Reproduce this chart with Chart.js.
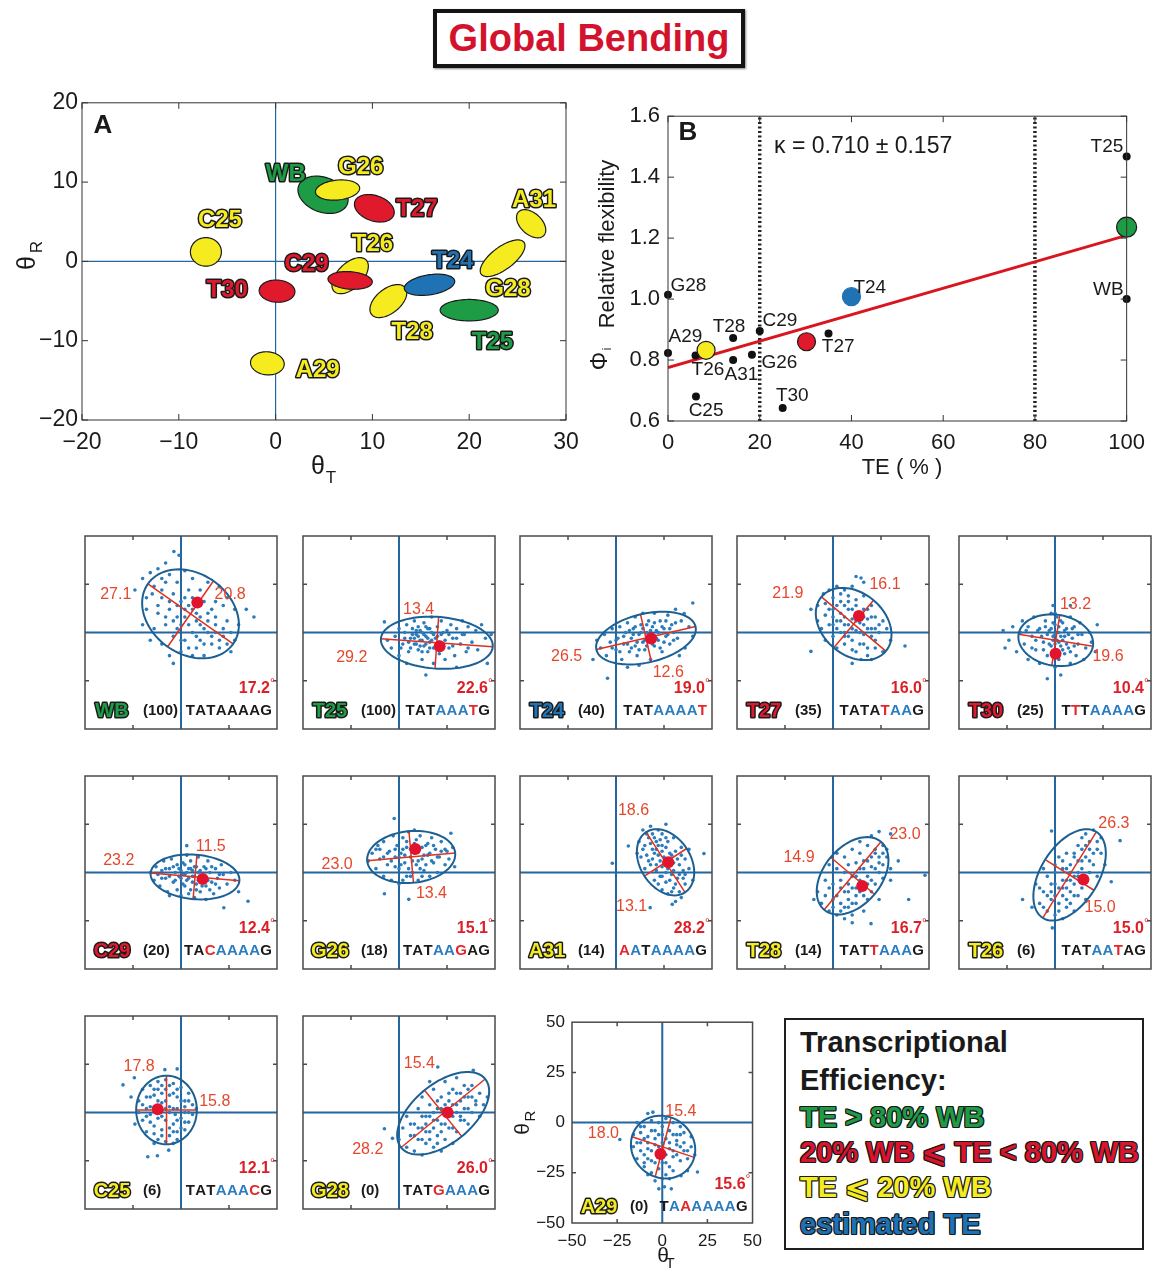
<!DOCTYPE html>
<html>
<head>
<meta charset="utf-8">
<title>Global Bending</title>
<script src="https://cdn.jsdelivr.net/npm/chart.js@4.4.1/dist/chart.umd.min.js"></script>
<style>
  body { margin: 0; background: #fff; }
  #page { position: relative; width: 1154px; height: 1270px; overflow: hidden; background: #fff;
          font-family: "Liberation Sans", Arial, Helvetica, sans-serif; }
  #page canvas { position: absolute; }
  #title { position: absolute; left: 433px; top: 9px; width: 312px; height: 59px; box-sizing: border-box;
           border: 4px solid #141414; text-align: center; line-height: 51px;
           font-size: 38px; font-weight: bold; color: #d3132d; box-shadow: 1px 1px 2px #888; }
  #legend { position: absolute; left: 784px; top: 1018px; width: 360px; height: 232px;
            box-sizing: border-box; border: 2px solid #1e1e1e; }
  #legend div { position: absolute; left: 14px; height: 32px; line-height: 32px;
                font-size: 29px; font-weight: bold; white-space: nowrap; color: #1a1a1a; }
  #legend .ol { text-shadow: -1px -1px 0 #1a1a1a, 1px -1px 0 #1a1a1a, -1px 1px 0 #1a1a1a, 1px 1px 0 #1a1a1a,
                0 1px 0 #1a1a1a, 0 -1px 0 #1a1a1a, 1px 0 0 #1a1a1a, -1px 0 0 #1a1a1a; }
</style>
</head>
<body>
<div id="page">
  <div id="title">Global Bending</div>
  <div id="legend">
    <div style="top:6px">Transcriptional</div>
    <div style="top:44px">Efficiency:</div>
    <div class="ol" style="top:81px;color:#1e9b45">TE &gt; 80% WB</div>
    <div class="ol" style="top:116px;color:#d9142d">20% WB ⩽ TE &lt; 80% WB</div>
    <div class="ol" style="top:151px;color:#f4ec1f">TE ⩽ 20% WB</div>
    <div class="ol" style="top:188px;color:#1d72b6">estimated TE</div>
  </div>
</div>
<script>
// ---------- panel A: mean ellipse of each TATA variant ----------
const aNames   = ['WB', 'G26', 'T27', 'A31', 'G28', 'C25', 'T26', 'C29', 'T30', 'T28', 'T24', 'T25', 'A29'];
const aGroup   = ['hi', 'lo', 'mid', 'lo', 'lo', 'lo', 'lo', 'mid', 'mid', 'lo', 'est', 'hi', 'lo'];
const aCenterT = [4.9, 6.4, 10.2, 26.4, 23.45, -7.2, 7.7, 7.7, 0.15, 11.65, 15.9, 20.0, -0.85];
const aCenterR = [8.4, 9.0, 6.7, 4.75, 0.4, 1.2, -1.8, -2.4, -3.75, -5.0, -2.95, -6.15, -12.85];
const aMajor   = [2.8, 2.3, 2.2, 2.0, 3.0, 1.6, 2.6, 2.3, 1.85, 2.45, 2.65, 3.0, 1.75];
const aMinor   = [2.1, 1.25, 1.55, 1.2, 1.3, 1.8, 1.4, 1.1, 1.4, 1.4, 1.25, 1.35, 1.45];
const aTilt    = [-35, 8, -30, -55, 45, 0, 55, -6, -5, 50, 12, 0, -10];
const aLabelT  = [1.05, 8.8, 14.6, 26.7, 24.0, -5.75, 10.0, 3.2, -5.0, 14.1, 18.3, 22.4, 4.35];
const aLabelR  = [11.0, 11.9, 6.5, 7.7, -3.5, 5.2, 2.2, -0.4, -3.6, -9.0, 0.0, -10.2, -13.75];
const aTicksT  = [-20, -10, 0, 10, 20, 30];
const aTicksR  = [-20, -10, 0, 10, 20];

// ---------- panel B: flexibility vs transcriptional efficiency ----------
const bTE      = [100, 100, 0, 0, 6, 14.2, 14.2, 18.3, 20, 6.1, 25, 35];
const bFlex    = [1.468, 1.0, 1.014, 0.823, 0.815, 0.872, 0.80, 0.817, 0.895, 0.68, 0.643, 0.887];
const meanGroup = ['lo', 'mid', 'est', 'hi'];
const meanTE   = [8.3, 30.2, 40, 100];
const meanFlex = [0.832, 0.86, 1.008, 1.236];
const fitTE    = [0, 100];
const fitFlex  = [0.775, 1.209];
const cutTE    = [20, 80];
const bLabNames = ['T25', 'WB', 'G28', 'T24', 'T28', 'C29', 'A29', 'T27', 'G26', 'T26', 'A31', 'T30', 'C25'];
const bLabTE    = [95.7, 96.0, 4.45, 44.0, 13.3, 24.4, 3.8, 37.1, 24.3, 8.7, 16.0, 27.1, 8.3];
const bLabFlex  = [1.50, 1.032, 1.043, 1.037, 0.909, 0.928, 0.877, 0.842, 0.791, 0.767, 0.753, 0.684, 0.635];
const bTicksTE   = [0, 20, 40, 60, 80, 100];
const bTicksFlex = [0.6, 0.8, 1.0, 1.2, 1.4, 1.6];
const kappaText = 'κ = 0.710 ± 0.157';

// ---------- small panels: per-variant (θT, θR) fluctuations ----------
const pNames   = ['WB', 'T25', 'T24', 'T27', 'T30', 'C29', 'G26', 'A31', 'T28', 'T26', 'C25', 'G28', 'A29'];
const pGroup   = ['hi', 'hi', 'est', 'mid', 'mid', 'mid', 'lo', 'lo', 'lo', 'lo', 'lo', 'lo', 'lo'];
const pTE      = [100, 100, 40, 35, 25, 20, 18, 14, 14, 6, 6, 0, 0];
const pSeq     = ['TATAAAAG', 'TATAAATG', 'TATAAAAT', 'TATATAAG', 'TTTAAAAG', 'TACAAAAG', 'TATAAGAG',
                  'AATAAAAG', 'TATTAAAG', 'TATAATAG', 'TATAAACG', 'TATGAAAG', 'TAAAAAAG'];
const pSeqMark = ['kkkkkkkk', 'kkkbbbrk', 'kkkbbbbr', 'kkkkrbbk', 'krkbbbbk', 'kkrbbbbk', 'kkkbbrkk',
                  'rbkbbbbk', 'kkkrbbbk', 'kkkbbrkk', 'kkkbbbrk', 'kkkrbbbk', 'kbrbbbbk'];
const pBend    = ['17.2', '22.6', '19.0', '16.0', '10.4', '12.4', '15.1', '28.2', '16.7', '15.0', '12.1', '26.0', '15.6'];
const pCenT    = [4.96, 19.7, 15.6, 10.75, 0.4, 7.3, 6.35, 25.8, 10.2, 7.6, -7.55, 23.0, 0.45];
const pCenR    = [9.66, -5.3, -2.9, 4.4, -4.0, -2.3, 8.05, 5.3, -1.7, -1.25, 1.3, -0.4, -12.2];
const pMajor   = [27.1, 29.2, 26.5, 21.9, 19.6, 23.2, 23.0, 18.6, 23.0, 26.3, 17.8, 28.2, 18.0];
const pMinor   = [20.8, 13.4, 12.6, 16.1, 13.2, 11.5, 13.4, 13.1, 14.9, 15.0, 15.8, 15.4, 15.4];
const pTilt    = [-35, -4, 13, -40, -9, -5, 5, -57, 50, 58, 90, 39, -16.5];
const pDotT    = [8.5, 21.2, 18.3, 13.5, 0.3, 11.3, 8.5, 27.2, 15.2, 14.8, -12.1, 25.3, -1.0];
const pDotR    = [15.5, -7.1, -3.1, 8.6, -11, -3.4, 12.2, 5.3, -7.0, -3.6, 1.7, 0, -15.6];
const pMajLabT = [-34, -24.6, -25.7, -23.5, 27.6, -32.4, -32.2, 9.1, 37.5, 30.7, -21.8, -16.3, -32.6];
const pMajLabR = [19.7, -13.0, -12.3, 20.4, -12.3, 6.4, 4.2, 32.1, 19.5, 25.4, 23.6, -19.4, -5.7];
const pMinLabT = [25.6, 10.2, 27.2, 27.1, 10.7, 15.5, 16.9, 8.1, -17.7, 23.5, 17.6, 10.6, 10.3];
const pMinLabR = [19.7, 12.1, -20.7, 24.9, 14.5, 13.6, -11.0, -17.7, 7.8, -18.2, 5.9, 25.3, 5.7];

// snapshots (θT, θR pairs)
const cloudWB = [[-3.7,42],[-1,40],[-8,36],[-12,33],[-16,31],[-20,28],[-24,22],[-6,30],[2,32],[-2,26],[6,28],[10,22],[14,26],[20,24],[-15,20],[-10,18],[-4,20],[0,16],[4,14],[-18,12],[-12,10],[-6,12],[2,8],[8,10],[12,16],[16,12],[22,14],[28,12],[34,12],[38,8],[-20,4],[-14,2],[-8,4],[-2,2],[4,4],[10,4],[14,6],[18,4],[24,6],[30,4],[-16,-4],[-10,-6],[-4,-2],[2,-4],[8,-2],[12,-6],[16,-2],[22,-2],[28,-4],[20,-8],[26,-10],[-6,-12],[0,-10],[6,-12],[12,-12],[-4,-16],[18,0],[10,-4],[6,0],[-2,8],[24,18],
  [-14,24],[-10,22],[-8,26],[-6,16],[-2,14],[2,18],[4,22],[6,12],[8,6],[10,8],[12,2],[14,0],[16,-6],[18,8],[20,-4],[22,2],[24,-6],[26,0],[-12,14],[-8,8],[-4,6],[0,4],[2,12],[6,18],[10,14],[14,10],[18,16],[-10,28],[-18,18],[0,-4],[4,-8],[8,-8]];
const cloudT25 = [[-7.6,5.5],[-6,-4],[-4,-8],[-2,-2],[0,2],[0,-12],[2,-6],[3,0],[4,4],[5,-10],[6,-3],[7,2],[8,-6],[8,6],[9,-1],[10,-9],[10,3],[11,-4],[12,0],[12,-14],[13,-7],[13,5],[14,-2],[15,-10],[15,2],[16,-5],[17,0],[17,8],[18,-8],[18,-16],[19,-3],[20,3],[21,-11],[22,-1],[22,6],[23,-6],[24,-14],[25,1],[26,-8],[27,4],[28,-3],[29,-12],[30,2],[32,-6],[33,6],[34,-1],[35,-10],[36,3],[38,-5],[40,1],[41,-9],[43,4],[45,-3],[46,-16],[48,-1],[14,-22],[4,-16],[30,-18],
  [5,-5],[6,-8],[7,-1],[8,-3],[9,-6],[9,1],[10,-2],[11,-7],[11,1],[12,-4],[12,-10],[13,-1],[14,-6],[14,3],[15,-3],[16,-8],[16,2],[17,-4],[18,-1],[19,-7],[20,-2],[21,-5],[22,-9],[23,0],[24,-4],[26,-1],[28,-7],[30,-3],[33,-1],[36,-8],[3,-3],[1,-8]];
const cloudT24 = [[-10,-4],[-8,-8],[-6,-1],[-5,-12],[-4.4,-23.7],[-3,-5],[-2,2],[0,-9],[1,-3],[2,3],[3,-14],[4,-6],[5,0],[6,5],[7,-10],[8,-3],[9,2],[10,-7],[10,8],[11,-12],[12,-1],[13,4],[14,-5],[14,10],[15,-9],[16,0],[17,6],[18,-3],[18,-14],[19,3],[20,-7],[20,10],[21,1],[22,-4],[23,6],[24,-10],[25,2],[26,-2],[27,9],[28,-6],[29,4],[30,0],[31,12],[32,-3],[34,6],[35.5,9.8],[36,-8],[38,3],[40,15.3],[40,-2],[33,-12],[6,-18],[-12,-14],[12,-17],
  [4,-2],[6,-6],[7,1],[8,-8],[9,-1],[10,3],[11,-5],[12,-9],[13,0],[14,2],[15,-4],[16,-7],[16,4],[17,-2],[18,1],[19,-6],[20,5],[21,-3],[22,0],[23,-8],[24,3],[25,-5],[26,6],[27,-1],[28,2],[30,-4],[31,5],[2,-10],[0,-4],[-2,-8]];
const cloudT27 = [[14.6,28.2],[12,29],[16,26],[-11.5,12],[-11.5,-9.8],[37.5,-7],[14.6,-14],[10,-16],[20,-14],[-5,20],[-2,22],[2,24],[6,22],[10,24],[-8,14],[-4,15],[0,18],[4,16],[8,19],[12,17],[16,19],[-8,6],[-4,9],[0,12],[4,10],[8,12],[12,10],[16,12],[20,14],[-6,2],[-2,4],[2,6],[6,4],[10,7],[14,5],[18,7],[22,8],[26,6],[-4,-4],[0,-2],[4,0],[8,-2],[12,1],[16,-1],[20,2],[24,0],[28,2],[2,-8],[6,-6],[10,-9],[14,-6],[18,-8],[22,-4],[26,-10],[30,-4],[6,0],[0,4],
  [2,14],[4,20],[6,14],[6,8],[8,4],[8,16],[10,2],[10,12],[12,6],[12,14],[14,0],[14,10],[16,4],[16,8],[18,2],[18,12],[20,-2],[20,8],[22,2],[24,4],[4,6],[2,2],[0,8],[-2,12],[10,-4],[12,-10],[16,-6],[6,-2],[22,-8],[18,-12]];
const cloudT30 = [[-27,1],[-26,-8],[-24,-4],[-22,3],[-20,-10],[-18,0],[-17,6],[-16,-6],[-14,-14],[-14,3],[-12,-2],[-11,8],[-10,-9],[-8,2],[-8,-16],[-6,-5],[-5,6],[-4,-12],[-3,1],[-2,10],[-2,-7],[-1,-2],[0,4],[0,-10],[0,-18],[1,-4],[1,8],[2,0],[2,-14],[3,-7],[4,5],[5,-2],[5,-11],[6,2],[7,-8],[8,8],[8,-16],[9,-3],[10,3],[11,-12],[12,-6],[13,5],[14,-1],[15,-14],[16,-8],[18,0],[19,-5],[21,-10],[22,4],[-4,-24],[3,-22],[8,14],[-1,14],
  [-10,-4],[-9,1],[-7,-2],[-6,-9],[-5,3],[-4,-1],[-3,-6],[-2,2],[-1,-4],[-1,5],[0,-1],[0,-6],[1,0],[1,-9],[2,3],[2,-5],[3,-2],[3,6],[4,-4],[4,-9],[5,1],[6,-6],[7,-1],[8,-10],[9,2],[10,-7],[-12,-8],[-15,1],[12,-1],[0,10]];
const cloudC29 = [[-16,0],[-14,-4],[-13,3],[-11,-7],[-10,1],[-9,6],[-8,-3],[-7,-10],[-6,2],[-5,7],[-4,-5],[-3,0],[-2,4],[-2,-9],[-1,-2],[0,1],[0,-12],[1,5],[1,-6],[2,-1],[3,9],[3,13.9],[3,-4],[4,2],[5,-9],[5,6],[6,-2],[7,-13],[7,3],[8,-6],[9,0],[9,8],[10,-10],[11,-3],[12,3],[13,-14],[13,-7],[14,6],[15,0],[16,-5],[17,-11],[18,2],[19,-3],[20,-8],[21,4],[22,-1],[24,-6],[26,0],[28,-4],[22.3,-18.3],[34.9,-14.9],[30,-10],[-6,-12],
  [-8,2],[-6,-2],[-4,3],[-3,-4],[-1,2],[0,-3],[1,-1],[2,4],[2,-7],[3,0],[4,-3],[5,2],[6,-5],[6,1],[7,-2],[8,3],[8,-9],[9,-4],[10,1],[11,-7],[12,-2],[13,2],[14,-4],[15,-9],[16,3],[18,-6],[20,-1],[-10,-3],[-12,-1],[4,-11]];
const cloudG26 = [[-2.5,28],[-7.6,-11],[5.1,-13.9],[27,20.3],[-16,6],[-14,10],[-12,2],[-11,14],[-10,7],[-8,-2],[-8,16],[-6,4],[-5,11],[-4,-4],[-3,19],[-2,8],[-1,14],[0,2],[0,-6],[1,10],[2,18],[3,5],[4,-2],[4,13],[5,21],[6,8],[7,0],[8,15],[9,4],[10,11],[10,-4],[11,19],[12,7],[13,1],[14,14],[15,9],[16,-2],[17,18],[18,5],[19,12],[20,0],[21,8],[22,16],[24,4],[25,11],[26,7],[28,13],[29,3],[-12,12],[8,22],[2,-4],
  [-6,10],[-4,6],[-2,12],[0,8],[1,4],[2,12],[3,9],[4,16],[5,2],[6,12],[7,6],[8,10],[9,17],[10,6],[11,2],[12,13],[13,9],[14,4],[15,15],[16,10],[17,6],[18,14],[20,8],[22,11],[-8,8],[-10,12],[-2,3],[6,-2],[12,-2],[24,12]];
const cloudA31 = [[-1.9,4.8],[17.8,-18.2],[29.3,-16.5],[45.8,9.8],[6.4,13.7],[14,22],[16,20],[18,24],[20,18],[22,22],[24,20],[26,25],[12,16],[15,14],[18,15],[21,12],[24,14],[27,16],[30,18],[13,8],[16,9],[19,7],[22,9],[25,8],[28,10],[31,11],[34,13],[15,2],[18,4],[21,1],[24,3],[27,2],[30,5],[33,4],[36,7],[20,-4],[23,-2],[26,-5],[29,-1],[32,-3],[35,1],[38,2],[24,-9],[27,-11],[30,-8],[33,-10],[36,-6],[31,-15],[34,-13],[40,-4],[11,10],[38,12],
  [17,18],[19,20],[21,16],[23,17],[20,10],[22,14],[24,11],[26,13],[25,5],[27,7],[29,9],[23,6],[26,0],[28,4],[30,1],[24,-2],[28,-4],[31,-6],[29,-10],[32,7],[33,-1],[19,12],[17,6],[21,4],[35,-3],[14,12],[26,18],[22,-6],[34,9],[36,-1]];
const cloudT28 = [[47.9,-1.4],[39.4,-14],[19.8,-26.5],[24,21.2],[30,20],[20,19],[18,14],[22,12],[26,14],[28,8],[14,10],[10,12],[6,8],[12,5],[16,6],[20,3],[24,5],[30,2],[34,6],[2,2],[6,0],[10,-2],[14,-4],[18,-2],[22,-6],[26,-3],[-4,-4],[0,-6],[4,-8],[8,-10],[12,-8],[16,-12],[20,-10],[-8,-10],[-4,-12],[0,-14],[4,-16],[8,-18],[12,-16],[-2,-20],[2,-22],[6,-24],[10,-22],[-6,-16],[-10,-14],[2,10],[14,16],[30,-4],[24,-14],[8,4],[-2,4],[16,-20],
  [4,-4],[6,-10],[8,-6],[8,-14],[10,-8],[10,-16],[12,-2],[12,-12],[14,-10],[14,2],[16,-8],[16,2],[18,-6],[18,6],[20,-4],[20,8],[22,2],[22,10],[24,0],[24,8],[26,4],[6,-18],[2,-12],[0,-18],[-2,-8],[28,12],[4,-20],[10,-26],[18,-14],[26,10]];
const cloudT26 = [[-16.9,-14],[-1.8,21.5],[33.9,16.5],[29.3,-4.8],[-1.4,-28.7],[20,22],[16,20],[22,16],[12,14],[18,12],[24,10],[6,10],[10,8],[14,6],[20,4],[26,4],[0,4],[4,2],[8,0],[12,-2],[16,-4],[22,-2],[-4,-2],[0,-6],[4,-8],[8,-10],[12,-12],[16,-14],[-6,-10],[-2,-14],[2,-16],[6,-18],[10,-20],[-8,-16],[-4,-20],[0,-22],[4,-24],[-10,-6],[-12,-18],[14,18],[2,8],[10,-6],[18,0],[6,-4],[-6,2],[24,18],[-2,-10],[14,-8],
  [0,-12],[2,-8],[2,-20],[4,-4],[4,-12],[6,-8],[6,-14],[6,2],[8,-4],[8,-16],[8,4],[10,-2],[10,-12],[10,10],[12,0],[12,6],[14,2],[14,12],[16,8],[16,14],[18,6],[18,16],[20,10],[-2,-6],[-4,-12],[-6,-18],[0,0],[4,6],[-8,-8],[22,12]];
const cloudC25 = [[-30.2,14.3],[-24.3,18],[-8.4,22.2],[-2,22.6],[-17.3,-22.9],[-12.3,-22.4],[-6.4,-19.5],[-20,12],[-16,14],[-12,16],[-8,17],[-4,15],[0,13],[4,10],[-22,6],[-18,8],[-14,9],[-10,10],[-6,9],[-2,8],[2,6],[6,4],[-22,0],[-18,2],[-14,3],[-10,1],[-6,3],[-2,2],[2,0],[6,-1],[-20,-4],[-16,-5],[-12,-3],[-8,-4],[-4,-6],[0,-3],[4,-5],[-18,-10],[-14,-11],[-10,-9],[-6,-12],[-2,-10],[2,-9],[-14,-16],[-8,-15],[-4,-16],[-10,5],[-3,-1],[-16,-1],[-26,8],[-24,-6],[8,2],
  [-16,8],[-14,12],[-12,6],[-12,12],[-10,-2],[-10,14],[-8,2],[-8,6],[-8,12],[-6,0],[-6,-8],[-6,14],[-4,2],[-4,10],[-4,-10],[-2,-4],[-2,12],[0,6],[0,-8],[2,3],[2,-5],[4,0],[-18,-2],[-14,-7],[-12,-14],[-20,4],[-16,3],[-10,-12],[-2,-14],[4,6]];
const cloudG28 = [[-7.6,-8.4],[-3.4,-13.4],[20.2,23.6],[38.7,21.9],[0,-14],[4,-18],[8,-20],[12,-22],[2,-8],[6,-12],[10,-14],[14,-16],[18,-18],[4,-2],[8,-6],[12,-8],[16,-10],[20,-12],[24,-14],[10,2],[14,-2],[18,-4],[22,-6],[26,-8],[30,-10],[12,8],[16,4],[20,2],[24,0],[28,-2],[32,-4],[36,-6],[18,12],[22,8],[26,6],[30,4],[34,2],[38,0],[42,-2],[24,16],[28,12],[32,10],[36,8],[40,6],[44,4],[30,18],[34,14],[38,14],[42,10],[22,-20],[28,-16],[16,16],[46,8],
  [6,-6],[8,-12],[10,-8],[12,-14],[14,-6],[14,-10],[16,-2],[16,-14],[18,0],[18,-8],[20,-4],[20,6],[22,2],[22,-10],[24,4],[24,-6],[26,-2],[26,10],[28,4],[28,-8],[30,0],[30,10],[32,6],[32,-2],[34,8],[34,-4],[36,2],[36,12],[40,4],[38,8],[20,-16],[12,-2]];
const cloudA29 = [[-5.2,5.2],[-8,4.5],[19.5,-24.6],[10.4,-26.5],[-23.5,-8.4],[1.2,-32],[-1.9,-33],[5,-33],[-14,0],[-10,-2],[-6,1],[-2,0],[2,2],[6,0],[10,-2],[-16,-6],[-12,-5],[-8,-7],[-4,-4],[0,-6],[4,-4],[8,-6],[12,-5],[16,-7],[-16,-12],[-12,-10],[-8,-13],[-4,-11],[0,-10],[4,-13],[8,-11],[12,-14],[16,-12],[-14,-18],[-10,-16],[-6,-19],[-2,-17],[2,-20],[6,-17],[10,-19],[14,-18],[-10,-22],[-6,-25],[-2,-23],[2,-26],[6,-24],[-4,-29],[0,-28],[14,-24],[18,-16],
  [-12,-14],[-10,-8],[-8,-10],[-8,-18],[-6,-4],[-6,-14],[-4,-8],[-4,-20],[-2,-12],[-2,-6],[0,-14],[0,-20],[2,-8],[2,-16],[4,-10],[4,-22],[6,-6],[6,-14],[8,-16],[8,-9],[10,-12],[10,-6],[12,-10],[-14,-10],[-10,-20],[0,-2],[-12,-2],[14,-14],[-8,-26],[4,-28]];
const pClouds = [cloudWB, cloudT25, cloudT24, cloudT27, cloudT30, cloudC29, cloudG26, cloudA31, cloudT28, cloudT26, cloudC25, cloudG28, cloudA29];

// ---------- styling ----------
const FONT = '"Liberation Sans", Arial, Helvetica, sans-serif';
Chart.defaults.font.family = FONT;
Chart.defaults.color = '#1a1a1a';
const INK = '#1a1a1a';
const AXIS_BLUE = '#2466a0';
const groupFill = { hi: '#1e9b45', mid: '#e0192d', lo: '#f5eb1f', est: '#1f73b5' };
const seqColor = { k: '#1a1a1a', b: '#2a7cc0', r: '#e2282a' };
const noGrid = { display: false, drawTicks: false, tickLength: 0 };

// page boxes of the small panels (plot area x, y, w, h)
const pBoxes = [
  [82, 533, 198, 199], [300, 533, 198, 199], [517, 533, 198, 199], [734, 533, 198, 199], [956, 533, 198, 199],
  [82, 773, 198, 199], [300, 773, 198, 199], [517, 773, 198, 199], [734, 773, 198, 199], [956, 773, 198, 199],
  [82, 1013, 198, 199], [300, 1013, 198, 199], [572, 1020, 181, 203]
];

function addCanvas(x, y, w, h) {
  const c = document.createElement('canvas');
  c.width = w; c.height = h;
  c.style.left = x + 'px'; c.style.top = y + 'px';
  c.style.width = w + 'px'; c.style.height = h + 'px';
  document.getElementById('page').appendChild(c);
  return c;
}

function minus(v) { return v < 0 ? '\u2212' + Math.abs(v) : String(v); }

function outlined(ctx, txt, x, y, fill, size, align) {
  ctx.save();
  ctx.font = 'bold ' + size + 'px ' + FONT;
  ctx.textAlign = align || 'center';
  ctx.textBaseline = 'middle';
  ctx.lineJoin = 'round';
  ctx.lineWidth = 3;
  ctx.strokeStyle = INK;
  ctx.strokeText(txt, x, y);
  ctx.fillStyle = fill;
  ctx.fillText(txt, x, y);
  ctx.restore();
}

function ellipsePath(ctx, xs, ys, cx, cy, a, b, deg) {
  const ph = deg * Math.PI / 180;
  ctx.beginPath();
  for (let i = 0; i <= 90; i++) {
    const t = i / 90 * 2 * Math.PI;
    const u = a * Math.cos(t), v = b * Math.sin(t);
    const px = xs.getPixelForValue(cx + u * Math.cos(ph) - v * Math.sin(ph));
    const py = ys.getPixelForValue(cy + u * Math.sin(ph) + v * Math.cos(ph));
    if (i === 0) ctx.moveTo(px, py); else ctx.lineTo(px, py);
  }
  ctx.closePath();
}

function frameWithTicks(ctx, ca, xs, ys, xt, yt, len, color, lw) {
  ctx.save();
  ctx.strokeStyle = color;
  ctx.lineWidth = lw;
  ctx.beginPath();
  xt.forEach(v => {
    const p = xs.getPixelForValue(v);
    ctx.moveTo(p, ca.bottom); ctx.lineTo(p, ca.bottom - len);
    ctx.moveTo(p, ca.top); ctx.lineTo(p, ca.top + len);
  });
  yt.forEach(v => {
    const p = ys.getPixelForValue(v);
    ctx.moveTo(ca.left, p); ctx.lineTo(ca.left + len, p);
    ctx.moveTo(ca.right, p); ctx.lineTo(ca.right - len, p);
  });
  ctx.stroke();
  ctx.strokeRect(ca.left, ca.top, ca.right - ca.left, ca.bottom - ca.top);
  ctx.restore();
}

function zeroLines(ctx, ca, xs, ys, lw) {
  ctx.save();
  ctx.strokeStyle = AXIS_BLUE;
  ctx.lineWidth = lw;
  ctx.beginPath();
  const x0 = xs.getPixelForValue(0), y0 = ys.getPixelForValue(0);
  ctx.moveTo(x0, ca.top); ctx.lineTo(x0, ca.bottom);
  ctx.moveTo(ca.left, y0); ctx.lineTo(ca.right, y0);
  ctx.stroke();
  ctx.restore();
}

function rotatedText(ctx, txt, x, y, font) {
  ctx.save();
  ctx.translate(x, y);
  ctx.rotate(-Math.PI / 2);
  ctx.font = font;
  ctx.textAlign = 'center';
  ctx.textBaseline = 'middle';
  ctx.fillStyle = INK;
  ctx.fillText(txt, 0, 0);
  ctx.restore();
}

const noLegend = { legend: { display: false }, tooltip: { enabled: false } };

// ---------- panel A ----------
const cvA = addCanvas(0, 85, 590, 410);
new Chart(cvA, {
  type: 'scatter',
  data: { datasets: [{ data: aCenterT.map((t, i) => ({ x: t, y: aCenterR[i] })), pointRadius: 0 }] },
  options: {
    responsive: false, animation: false, devicePixelRatio: 1,
    layout: { padding: { top: 15, right: 24, left: 0, bottom: 0 } },
    plugins: noLegend,
    scales: {
      x: { type: 'linear', min: -20, max: 30, grid: noGrid, border: { display: false },
           ticks: { stepSize: 10, autoSkip: false, maxRotation: 0, padding: 9, font: { size: 23 }, color: INK, callback: minus },
           afterFit(s) { s.height = 75; } },
      y: { type: 'linear', min: -20, max: 20, grid: noGrid, border: { display: false },
           ticks: { stepSize: 10, padding: 4, font: { size: 23 }, color: INK, callback: minus },
           afterFit(s) { s.width = 82; } }
    }
  },
  plugins: [{
    id: 'panelA',
    beforeDatasetsDraw(chart) {
      const { ctx, chartArea: ca, scales: { x, y } } = chart;
      zeroLines(ctx, ca, x, y, 1.2);
      ctx.save();
      aNames.forEach((n, i) => {
        ellipsePath(ctx, x, y, aCenterT[i], aCenterR[i], aMajor[i], aMinor[i], aTilt[i]);
        ctx.fillStyle = groupFill[aGroup[i]];
        ctx.fill();
        ctx.lineWidth = 1.2;
        ctx.strokeStyle = INK;
        ctx.stroke();
      });
      ctx.restore();
      frameWithTicks(ctx, ca, x, y, aTicksT, aTicksR, 6, '#333', 1);
      aNames.forEach((n, i) => outlined(ctx, n, x.getPixelForValue(aLabelT[i]), y.getPixelForValue(aLabelR[i]), groupFill[aGroup[i]], 24));
      ctx.save();
      ctx.fillStyle = INK;
      ctx.textAlign = 'center';
      ctx.textBaseline = 'middle';
      ctx.font = 'bold 26px ' + FONT;
      ctx.fillText('A', ca.left + 21, ca.top + 23);
      ctx.font = '25px ' + FONT;
      ctx.fillText('θ', 318, 382);
      ctx.font = '17px ' + FONT;
      ctx.fillText('T', 331, 393);
      ctx.restore();
      rotatedText(ctx, 'θ', 28, 178, '25px ' + FONT);
      rotatedText(ctx, 'R', 37, 162, '17px ' + FONT);
    }
  }]
});

// ---------- panel B ----------
const cvB = addCanvas(590, 95, 564, 390);
new Chart(cvB, {
  type: 'scatter',
  data: {
    datasets: [
      { data: meanTE.map((t, i) => ({ x: t, y: meanFlex[i] })), clip: false,
        pointRadius: [9, 9, 9, 10], borderWidth: 1.2,
        backgroundColor: meanGroup.map(g => groupFill[g]),
        borderColor: meanGroup.map(g => g === 'est' ? groupFill[g] : INK) },
      { data: bTE.map((t, i) => ({ x: t, y: bFlex[i] })), clip: false, pointRadius: 4, backgroundColor: '#111', borderWidth: 0 },
      { data: fitTE.map((t, i) => ({ x: t, y: fitFlex[i] })), showLine: true, borderColor: '#d9161f', borderWidth: 3, pointRadius: 0 },
      { data: [{ x: cutTE[0], y: 0.6 }, { x: cutTE[0], y: 1.6 }], showLine: true, borderColor: '#222', borderWidth: 3.5, borderDash: [2, 2.5], pointRadius: 0 },
      { data: [{ x: cutTE[1], y: 0.6 }, { x: cutTE[1], y: 1.6 }], showLine: true, borderColor: '#222', borderWidth: 3.5, borderDash: [2, 2.5], pointRadius: 0 }
    ]
  },
  options: {
    responsive: false, animation: false, devicePixelRatio: 1,
    layout: { padding: { top: 15, right: 19, left: 0, bottom: 0 } },
    plugins: noLegend,
    scales: {
      x: { type: 'linear', min: 0, max: 100, grid: noGrid, border: { display: false },
           ticks: { stepSize: 20, autoSkip: false, maxRotation: 0, padding: 9, font: { size: 22 }, color: INK },
           afterFit(s) { s.height = 64; } },
      y: { type: 'linear', min: 0.6, max: 1.6, grid: noGrid, border: { display: false },
           ticks: { stepSize: 0.2, padding: 8, font: { size: 22 }, color: INK, callback: v => v.toFixed(1) },
           afterFit(s) { s.width = 78; } }
    }
  },
  plugins: [{
    id: 'panelB',
    afterDatasetsDraw(chart) {
      const { ctx, chartArea: ca, scales: { x, y } } = chart;
      frameWithTicks(ctx, ca, x, y, bTicksTE, bTicksFlex, 6, '#333', 1);
      ctx.save();
      ctx.fillStyle = INK;
      ctx.textAlign = 'center';
      ctx.textBaseline = 'middle';
      ctx.font = '19px ' + FONT;
      bLabNames.forEach((n, i) => ctx.fillText(n, x.getPixelForValue(bLabTE[i]), y.getPixelForValue(bLabFlex[i])));
      ctx.font = 'bold 26px ' + FONT;
      ctx.fillText('B', ca.left + 20, ca.top + 17);
      ctx.font = '23px ' + FONT;
      ctx.textAlign = 'left';
      ctx.fillText(kappaText, ca.left + 106, ca.top + 30);
      ctx.textAlign = 'center';
      ctx.font = '22px ' + FONT;
      ctx.fillText('TE ( % )', 312, 373);
      ctx.restore();
      rotatedText(ctx, 'Relative flexibility', 18, 149, '22px ' + FONT);
      rotatedText(ctx, 'Φ', 11, 266, '23px ' + FONT);
      rotatedText(ctx, 'i', 18, 254, '12px ' + FONT);
    }
  }]
});

// ---------- small panels ----------
function drawSequence(ctx, seq, marks, right, y) {
  ctx.save();
  ctx.font = 'bold 15px ' + FONT;
  ctx.textBaseline = 'middle';
  ctx.textAlign = 'left';
  const gap = 0.3;
  let w = 0;
  for (const ch of seq) w += ctx.measureText(ch).width + gap;
  let px = right - w + gap;
  for (let i = 0; i < seq.length; i++) {
    ctx.fillStyle = seqColor[marks[i]];
    ctx.fillText(seq[i], px, y);
    px += ctx.measureText(seq[i]).width + gap;
  }
  ctx.restore();
}

pNames.forEach((name, i) => {
  const [bx, by, bw, bh] = pBoxes[i];
  const withAxes = i === pNames.length - 1;
  const pad = 3;
  let cv, layoutPad, scaleX, scaleY;
  if (withAxes) {
    cv = addCanvas(500, 1005, 270, 265);
    layoutPad = { top: 15, right: 17, left: 0, bottom: 0 };
    scaleX = { type: 'linear', min: -50, max: 50, grid: noGrid, border: { display: false },
               ticks: { stepSize: 25, autoSkip: false, maxRotation: 0, padding: 8, font: { size: 17 }, color: INK, callback: minus },
               afterFit(s) { s.height = 47; } };
    scaleY = { type: 'linear', min: -50, max: 50, grid: noGrid, border: { display: false },
               ticks: { stepSize: 25, padding: 7, font: { size: 17 }, color: INK, callback: minus },
               afterFit(s) { s.width = 72; } };
  } else {
    cv = addCanvas(bx - pad, by - pad, bw + 2 * pad, bh + 2 * pad);
    layoutPad = pad;
    scaleX = { type: 'linear', min: -50, max: 50, display: false };
    scaleY = { type: 'linear', min: -50, max: 50, display: false };
  }
  const angleDy = withAxes ? 38 : 40;
  const textDy = withAxes ? 16 : 18;

  new Chart(cv, {
    type: 'scatter',
    data: {
      datasets: [
        { data: [{ x: pDotT[i], y: pDotR[i] }], pointRadius: 6, backgroundColor: '#e2142d', borderWidth: 0 },
        { data: pClouds[i].map(p => ({ x: p[0], y: p[1] })), pointRadius: 1.8, backgroundColor: '#2b7cbc', borderWidth: 0 }
      ]
    },
    options: {
      responsive: false, animation: false, devicePixelRatio: 1,
      layout: { padding: layoutPad },
      plugins: noLegend,
      scales: { x: scaleX, y: scaleY }
    },
    plugins: [{
      id: 'fluct' + i,
      beforeDatasetsDraw(chart) {
        const { ctx, chartArea: ca, scales: { x, y } } = chart;
        zeroLines(ctx, ca, x, y, 2);
        frameWithTicks(ctx, ca, x, y, [-25, 25], [-25, 25], 4, '#4a4a4a', 1.5);
      },
      afterDatasetDraw(chart, args) {
        if (args.index !== 1) return;
        const { ctx, scales: { x, y } } = chart;
        ctx.save();
        // principal axes
        const ph = pTilt[i] * Math.PI / 180;
        const c = Math.cos(ph), s = Math.sin(ph);
        ctx.strokeStyle = '#e0301f';
        ctx.lineWidth = 1.5;
        ctx.beginPath();
        ctx.moveTo(x.getPixelForValue(pCenT[i] - pMajor[i] * c), y.getPixelForValue(pCenR[i] - pMajor[i] * s));
        ctx.lineTo(x.getPixelForValue(pCenT[i] + pMajor[i] * c), y.getPixelForValue(pCenR[i] + pMajor[i] * s));
        ctx.moveTo(x.getPixelForValue(pCenT[i] + pMinor[i] * s), y.getPixelForValue(pCenR[i] - pMinor[i] * c));
        ctx.lineTo(x.getPixelForValue(pCenT[i] - pMinor[i] * s), y.getPixelForValue(pCenR[i] + pMinor[i] * c));
        ctx.stroke();
        ellipsePath(ctx, x, y, pCenT[i], pCenR[i], pMajor[i], pMinor[i], pTilt[i]);
        ctx.strokeStyle = '#1c5f92';
        ctx.lineWidth = 2;
        ctx.stroke();
        ctx.restore();
      },
      afterDraw(chart) {
        const { ctx, chartArea: ca, scales: { x, y } } = chart;
        ctx.save();
        ctx.fillStyle = '#e5472c';
        ctx.font = '16px ' + FONT;
        ctx.textAlign = 'center';
        ctx.textBaseline = 'middle';
        ctx.fillText(pMajor[i].toFixed(1), x.getPixelForValue(pMajLabT[i]), y.getPixelForValue(pMajLabR[i]));
        ctx.fillText(pMinor[i].toFixed(1), x.getPixelForValue(pMinLabT[i]), y.getPixelForValue(pMinLabR[i]));
        // bend angle
        ctx.fillStyle = '#dc1f26';
        ctx.font = 'bold 16px ' + FONT;
        ctx.textAlign = 'right';
        ctx.fillText(pBend[i], ca.right - 7, ca.bottom - angleDy);
        ctx.font = '12px ' + FONT;
        ctx.textAlign = 'left';
        ctx.fillText('°', ca.right - 7, ca.bottom - angleDy - 5);
        // variant, efficiency, sequence
        ctx.fillStyle = INK;
        ctx.font = 'bold 15px ' + FONT;
        ctx.fillText('(' + pTE[i] + ')', ca.left + 58, ca.bottom - textDy);
        ctx.restore();
        outlined(ctx, name, ca.left + 27, ca.bottom - textDy, groupFill[pGroup[i]], 20);
        drawSequence(ctx, pSeq[i], pSeqMark[i], ca.right - 5, ca.bottom - textDy);
        if (withAxes) {
          ctx.save();
          ctx.fillStyle = INK;
          ctx.textAlign = 'center';
          ctx.textBaseline = 'middle';
          ctx.font = '21px ' + FONT;
          ctx.fillText('θ', 163, 251);
          ctx.font = '15px ' + FONT;
          ctx.fillText('T', 170, 259);
          ctx.restore();
          rotatedText(ctx, 'θ', 23, 124, '21px ' + FONT);
          rotatedText(ctx, 'R', 31, 111, '15px ' + FONT);
        }
      }
    }]
  });
});
</script>
</body>
</html>
